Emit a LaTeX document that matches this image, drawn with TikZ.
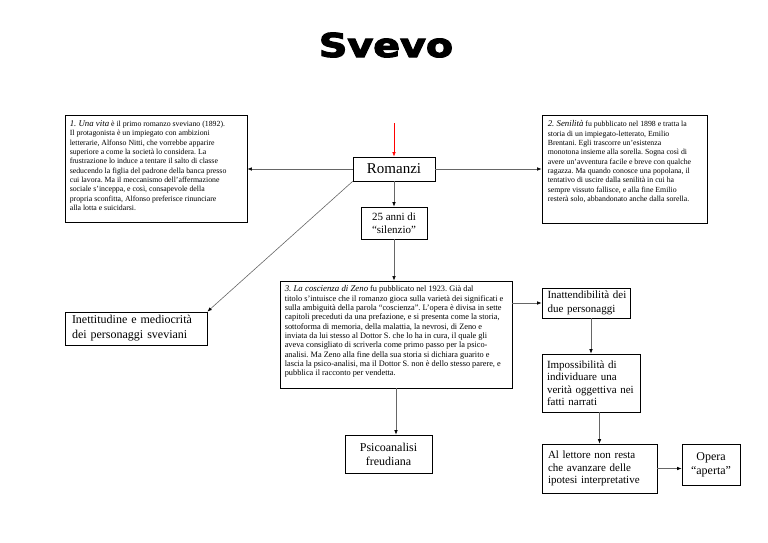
\documentclass[tikz,border=0pt]{standalone}
\usepackage{fontspec}
\setmainfont{Liberation Serif}
\newfontfamily\titlefont{DejaVu Sans}[BoldFeatures={FakeBold=3}]
\usetikzlibrary{arrows.meta,positioning,calc}
\frenchspacing

\newcommand{\booktitle}[1]{{\fontsize{8.8}{9.3}\selectfont\itshape #1}}

\begin{document}
\begin{tikzpicture}[x=1pt, y=-1pt,
  box/.style={draw=black, line width=0.7pt, inner sep=3pt,
              font=\fontsize{11}{12.5}\selectfont},
  lbox/.style={box, align=left, inner xsep=6pt},
  frame/.style={draw=black, line width=0.8pt, inner sep=0pt},
  note/.style={anchor=north west, inner sep=0pt, align=left,
               font=\fontsize{7.8}{9.3}\selectfont},
  ar/.style={-{Latex[length=4.5pt,width=3.5pt,color=black]}, draw=black!60, line width=0.6pt},
  redar/.style={-{Latex[length=4.5pt,width=3.5pt]}, draw=red, line width=0.6pt}]

\useasboundingbox (0,0) rectangle (768,543);

% title
\node[font=\titlefont\bfseries\fontsize{33}{33}\selectfont, xscale=1.2] (title) at (386,45) {Svevo};

% centre column
\node[box, minimum width=82pt, minimum height=24pt, font=\fontsize{15}{16}\selectfont]
     (romanzi) at (394,169) {Romanzi};
\node[box, minimum width=66pt, minimum height=32pt, align=center]
     (silenzio) at (394,223) {25 anni di\\``silenzio''};
\coordinate (redtop) at (394,123);

% the three novels
\node[frame, minimum width=182pt, minimum height=107pt] (unavita) at (156,168.5) {};
\node[note] (unavitatxt) at ($(unavita.north west)+(5,6)$)
     {\booktitle{1. Una vita} è il primo romanzo sveviano (1892).\\
      Il protagonista è un impiegato con ambizioni\\
      letterarie, Alfonso Nitti, che vorrebbe apparire\\
      superiore a come la società lo considera. La\\
      frustrazione lo induce a tentare il salto di classe\\
      seducendo la figlia del padrone della banca presso\\
      cui lavora. Ma il meccanismo dell'affermazione\\
      sociale s'inceppa, e così, consapevole della\\
      propria sconfitta, Alfonso preferisce rinunciare\\
      alla lotta e suicidarsi.};

\node[frame, minimum width=165pt, minimum height=108pt] (senilita) at (624.5,169) {};
\node[note] (senilitatxt) at ($(senilita.north west)+(6,6)$)
     {\booktitle{2. Senilità} fu pubblicato nel 1898 e tratta la\\
      storia di un impiegato-letterato, Emilio\\
      Brentani. Egli trascorre un'esistenza\\
      monotona insieme alla sorella. Sogna così di\\
      avere un'avventura facile e breve con qualche\\
      ragazza. Ma quando conosce una popolana, il\\
      tentativo di uscire dalla senilità in cui ha\\
      sempre vissuto fallisce, e alla fine Emilio\\
      resterà solo, abbandonato anche dalla sorella.};

\node[frame, minimum width=232pt, minimum height=107pt] (coscienza) at (396,334.5) {};
\node[note, font=\fontsize{8.3}{9.3}\selectfont] (coscienzatxt) at ($(coscienza.north west)+(5,5)$)
     {\booktitle{3. La coscienza di Zeno} fu pubblicato nel 1923. Già dal\\
      titolo s'intuisce che il romanzo gioca sulla varietà dei significati e\\
      sulla ambiguità della parola ``coscienza''. L'opera è divisa in sette\\
      capitoli preceduti da una prefazione, e si presenta come la storia,\\
      sottoforma di memoria, della malattia, la nevrosi, di Zeno e\\
      inviata da lui stesso al Dottor S. che lo ha in cura, il quale gli\\
      aveva consigliato di scriverla come primo passo per la psico-\\
      analisi. Ma Zeno alla fine della sua storia si dichiara guarito e\\
      lascia la psico-analisi, ma il Dottor S. non è dello stesso parere, e\\
      pubblica il racconto per vendetta.};

% remaining boxes
\node[lbox, text width=128pt, inner xsep=7pt, minimum height=33pt,
      font=\fontsize{12}{15}\selectfont]
     (inettitudine) at (136,328.5) {Inettitudine e mediocrità\\dei personaggi sveviani};
\node[box, minimum width=87pt, minimum height=38pt, align=center,
      font=\fontsize{12}{14}\selectfont]
     (psico) at (388.5,454) {Psicoanalisi\\freudiana};
\node[lbox, text width=81pt, inner xsep=3.5pt, minimum height=30pt,
      font=\fontsize{11}{13.5}\selectfont]
     (inatt) at (586,303) {\hspace*{2pt}Inattendibilità dei\\\hspace*{2pt}due personaggi};
\node[lbox, text width=88pt, inner xsep=5pt, minimum height=58pt]
     (imposs) at (591,383) {Impossibilità di\\individuare una\\verità oggettiva nei\\fatti narrati};
\node[lbox, text width=103pt, minimum height=49pt]
     (lettore) at (599.5,468.5) {Al lettore non resta\\che avanzare delle\\ipotesi interpretative};
\node[box, minimum width=58pt, minimum height=41pt, align=center,
      font=\fontsize{12}{14}\selectfont]
     (opera) at (711,464.5) {Opera\\``aperta''};

% connectors
\draw[redar] (redtop) -- (romanzi.north);
\draw[ar] (romanzi.west) -- (romanzi.west -| unavita.east);
\draw[ar] (romanzi.east) -- (romanzi.east -| senilita.west);
\draw[ar] (romanzi) -- (silenzio);
\draw[ar] (romanzi.south west) -- (inettitudine.north east);
\draw[ar] (silenzio.south) -- (silenzio.south |- coscienza.north);
\draw[ar] (coscienza.east |- inatt.west) -- (inatt.west);
\draw[ar] (coscienza.south) -- (coscienza.south |- psico.north);
\draw[ar] (imposs.north |- inatt.south) -- (imposs.north);
\draw[ar] (lettore.north |- imposs.south) -- (lettore.north);
\draw[ar] (lettore.east) -- (lettore.east -| opera.west);
\end{tikzpicture}
\end{document}
